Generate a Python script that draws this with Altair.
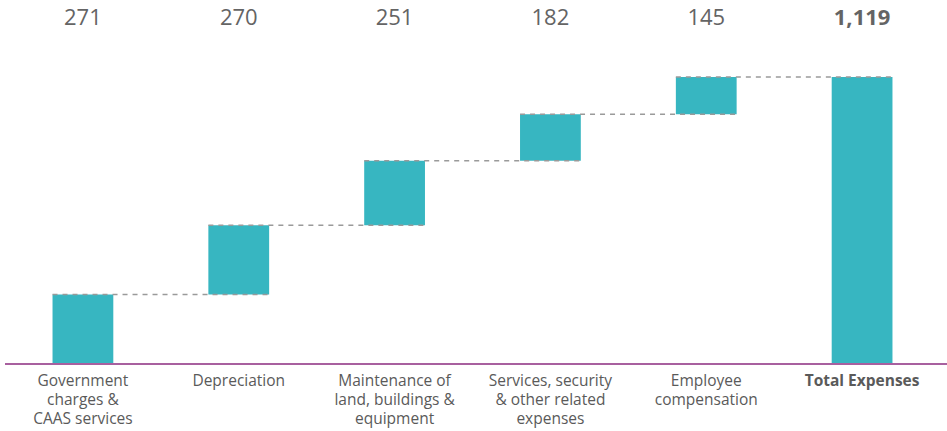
import altair as alt
import pandas as pd

categories = [
    "Government\ncharges &\nCAAS services",
    "Depreciation",
    "Maintenance of\nland, buildings &\nequipment",
    "Services, security\n& other related\nexpenses",
    "Employee\ncompensation",
    "Total Expenses",
]
values = [271, 270, 251, 182, 145, 1119]
value_labels = ["271", "270", "251", "182", "145", "1,119"]
is_total = [False, False, False, False, False, True]

HALF = 0.195
rows = []
cum = 0
for i, (c, v, lab, tot) in enumerate(zip(categories, values, value_labels, is_total)):
    if tot:
        start, end = 0, v
    else:
        start, end = cum, cum + v
        cum = end
    rows.append(dict(idx=i, cat=c, start=start, end=end, label=lab, total=tot,
                     x0=i - HALF, x1=i + HALF, nx1=i + 1 + HALF))
df = pd.DataFrame(rows)
conn = df[df.idx < len(df) - 1]
df_norm = df[~df.total]
df_tot = df[df.total]

W, H = 935, 364
xs = alt.Scale(domain=[-0.5, 5.5], range=[0, W])
ys = alt.Scale(domain=[0, 1419], range=[H, 0])
teal = "#37B6C1"

bars = alt.Chart(df).mark_bar(color=teal, cornerRadius=0).encode(
    x=alt.X("x0:Q", scale=xs, axis=None),
    x2="x1:Q",
    y=alt.Y("start:Q", scale=ys, axis=None),
    y2="end:Q",
)

connectors = alt.Chart(conn).mark_rule(
    color="#9a9a9a", strokeDash=[5, 5], strokeWidth=1.5
).encode(
    x=alt.X("x0:Q", scale=xs, axis=None),
    x2="nx1:Q",
    y=alt.Y("end:Q", scale=ys, axis=None),
)

baseline = alt.Chart(df_tot).mark_rule(color="#A8609F", strokeWidth=2).encode(
    x=alt.value(0), x2=alt.value(942), y=alt.value(H), y2=alt.value(H)
)


def top_text(d, weight):
    return alt.Chart(d).mark_text(
        font="Open Sans", fontSize=22, color="#646464", baseline="middle",
        fontWeight=weight,
    ).encode(
        x=alt.X("idx:Q", scale=xs, axis=None),
        y=alt.value(18),
        text="label:N",
    )


def cat_text(d, weight):
    return alt.Chart(d).mark_text(
        font="Open Sans", fontSize=15.5, color="#5a5a5a", baseline="top",
        lineBreak="\n", lineHeight=19, fontWeight=weight,
    ).encode(
        x=alt.X("idx:Q", scale=xs, axis=None),
        y=alt.value(H + 10),
        text="cat:N",
    )


chart = alt.layer(
    bars, connectors, baseline,
    top_text(df_norm, "normal"), top_text(df_tot, "bold"),
    cat_text(df_norm, "normal"), cat_text(df_tot, "bold"),
).properties(
    width=W, height=H,
    background="white",
    autosize=alt.AutoSizeParams(type="none"),
    padding={"left": 5, "top": 0, "right": 7, "bottom": 67},
).configure_view(strokeWidth=0, strokeOpacity=0)

chart.save("out.html", embed_options={"renderer": "svg", "actions": False})
